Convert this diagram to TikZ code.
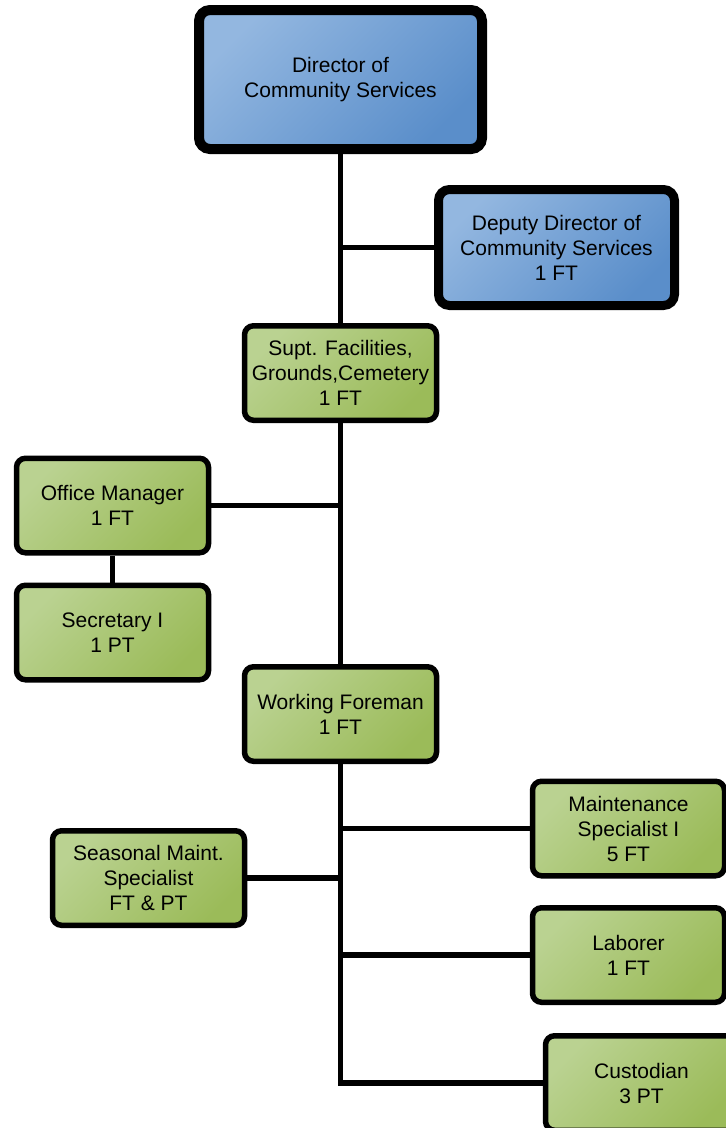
\documentclass[tikz,border=0pt]{standalone}
\usepackage{fontspec}
\setmainfont{Liberation Sans}
\usetikzlibrary{backgrounds}
\definecolor{bluelight}{HTML}{93B7E0}
\definecolor{bluedark}{HTML}{5A8ECA}
\definecolor{greenlight}{HTML}{BAD291}
\definecolor{greendark}{HTML}{9BBB59}
\tikzset{
  box/.style={draw=black, rounded corners=11pt, align=center, inner sep=0pt,
    font=\fontsize{21pt}{25pt}\selectfont, text=black},
  bluebox/.style={box, line width=10pt, top color=bluelight, bottom color=bluedark, shading angle=45},
  bluebox2/.style={box, line width=9pt, top color=bluelight, bottom color=bluedark, shading angle=45},
  greenbox/.style={box, line width=5.5pt, rounded corners=9pt, minimum width=192pt, minimum height=94.5pt,
    top color=greenlight, bottom color=greendark, shading angle=45},
  conn/.style={line width=5.5pt, draw=black}
}
\begin{document}
\begin{tikzpicture}[x=1pt,y=-1pt]
\useasboundingbox (0,0) rectangle (726,1128);
\clip (0,0) rectangle (726,1128);
\node[bluebox, minimum width=283pt, minimum height=139pt] (dir) at (340.5,79.5) {Director of\\Community Services};
\node[bluebox2, minimum width=236pt, minimum height=116pt] (dep) at (556.5,247.5) {Deputy Director of\\Community Services\\1 FT};
\node[greenbox] (supt) at (340.5,373) {Supt. Facilities,\\Grounds,Cemetery\\1 FT};
\node[greenbox] (om) at (112.5,505.5) {Office Manager\\1 FT};
\node[greenbox] (sec) at (112.5,632.5) {Secretary I\\1 PT};
\node[greenbox] (wf) at (340.5,714) {Working Foreman\\1 FT};
\node[greenbox] (mnt) at (628.5,828.5) {Maintenance\\Specialist I\\5 FT};
\node[greenbox] (sea) at (148.5,878) {Seasonal Maint.\\Specialist\\FT \& PT};
\node[greenbox] (lab) at (628.5,955) {Laborer\\1 FT};
\node[greenbox] (cus) at (641.5,1083) {Custodian\\3 PT};
\begin{scope}[on background layer]
\draw[conn] (dir.south) -- (supt.north);
\draw[conn] (dep.west) -- (dep.west -| dir.south);
\draw[conn] (supt.south) -- (wf.north);
\draw[conn] (om.east) -- (om.east -| supt.south);
\draw[conn] (om.south) -- (sec.north);
\draw[conn, line join=miter] (wf.south) |- (cus.west);
\draw[conn] (mnt.west) -- (mnt.west -| wf.south);
\draw[conn] (sea.east) -- (sea.east -| wf.south);
\draw[conn] (lab.west) -- (lab.west -| wf.south);
\end{scope}
\end{tikzpicture}
\end{document}
